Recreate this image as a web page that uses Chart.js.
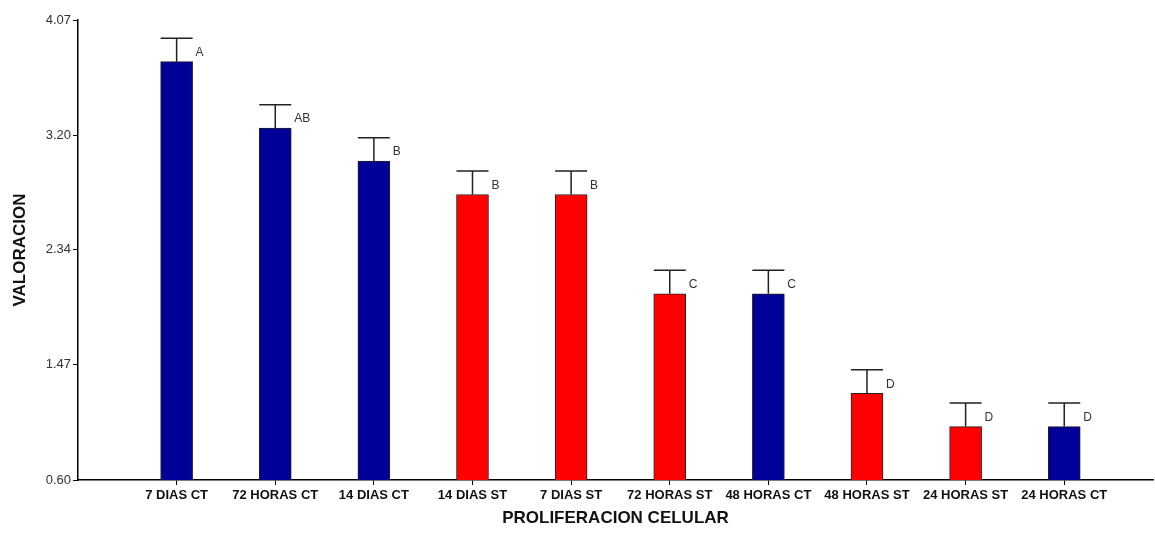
<!DOCTYPE html>
<html>
<head>
<meta charset="utf-8">
<script src="https://cdn.jsdelivr.net/npm/chart.js@4/dist/chart.umd.min.js"></script>
<style>
  html, body { margin: 0; padding: 0; background: #fff; }
  #wrap { width: 1155px; height: 540px; }
</style>
</head>
<body>
<div id="wrap"><canvas id="c" width="1155" height="540"></canvas></div>
<script>
// Mean score per treatment and its error (one bar per treatment)
const categories = ['7 DIAS CT', '72 HORAS CT', '14 DIAS CT', '14 DIAS ST', '7 DIAS ST',
                    '72 HORAS ST', '48 HORAS CT', '48 HORAS ST', '24 HORAS ST', '24 HORAS CT'];
const means      = [3.756, 3.254, 3.005, 2.754, 2.754, 2.005, 2.005, 1.254, 1.003, 1.003];
const errors     = [0.177, 0.177, 0.177, 0.177, 0.177, 0.177, 0.177, 0.177, 0.177, 0.177];
const groups     = ['CT', 'CT', 'CT', 'ST', 'ST', 'ST', 'CT', 'ST', 'ST', 'CT'];
const letters    = ['A', 'AB', 'B', 'B', 'B', 'C', 'C', 'D', 'D', 'D'];
const yTicks     = [0.60, 1.47, 2.34, 3.20, 4.07];

const groupColors = { CT: '#000099', ST: '#ff0000' };

const errorBarsPlugin = {
  id: 'errorBars',
  afterDatasetsDraw(chart) {
    const { ctx, scales: { y } } = chart;
    const meta = chart.getDatasetMeta(0);
    ctx.save();
    meta.data.forEach((bar, i) => {
      const half = bar.width / 2;
      const yMean = y.getPixelForValue(means[i]);
      const yTop = y.getPixelForValue(means[i] + errors[i]);
      ctx.strokeStyle = '#222';
      ctx.lineWidth = 1.5;
      ctx.beginPath();
      ctx.moveTo(bar.x, yMean);
      ctx.lineTo(bar.x, yTop);
      ctx.moveTo(bar.x - half, yTop);
      ctx.lineTo(bar.x + half, yTop);
      ctx.stroke();
      // significance letter beside the error bar
      ctx.fillStyle = '#333';
      ctx.font = '12px "Liberation Sans", Arial, sans-serif';
      ctx.textAlign = 'left';
      ctx.textBaseline = 'middle';
      ctx.fillText(letters[i], bar.x + half + 3, yMean - 9);
    });
    ctx.restore();
  }
};

new Chart(document.getElementById('c'), {
  type: 'bar',
  data: {
    datasets: [{
      data: categories.map((c, i) => ({ x: i + 1, y: means[i] })),
      backgroundColor: groups.map(g => groupColors[g]),
      borderColor: '#222',
      borderWidth: 1,
      borderSkipped: 'bottom',
      barThickness: 32
    }]
  },
  options: {
    responsive: false,
    animation: false,
    layout: { padding: { top: 20, right: 2, left: 0, bottom: 0 } },
    plugins: { legend: { display: false }, tooltip: { enabled: false } },
    scales: {
      x: {
        type: 'linear',
        offset: false,
        min: 0,
        max: 10.9,
        afterBuildTicks(scale) { scale.ticks = categories.map((c, i) => ({ value: i + 1 })); },
        afterFit(scale) { scale.height = 60; },
        grid: { offset: false, drawOnChartArea: false, tickLength: 5, color: '#000', lineWidth: 1 },
        border: { color: '#000', width: 1.5 },
        ticks: {
          autoSkip: false, maxRotation: 0, padding: 3,
          color: '#111',
          font: { family: '"Liberation Sans", Arial, sans-serif', size: 13, weight: 'bold' },
          callback: (v) => categories[v - 1]
        },
        title: {
          display: true, text: 'PROLIFERACION CELULAR', color: '#111',
          font: { family: '"Liberation Sans", Arial, sans-serif', size: 17, weight: 'bold' },
          padding: { top: 0, bottom: 11 }
        }
      },
      y: {
        min: 0.60,
        max: 4.07,
        afterBuildTicks(scale) { scale.ticks = yTicks.map(v => ({ value: v })); },
        afterFit(scale) { scale.width = 78; },
        grid: { drawOnChartArea: false, tickLength: 5, color: '#000', lineWidth: 1 },
        border: { color: '#000', width: 1.5 },
        ticks: {
          padding: 2, color: '#333',
          font: { family: '"Liberation Sans", Arial, sans-serif', size: 13 },
          callback: (v) => Number(v).toFixed(2)
        },
        title: {
          display: true, text: 'VALORACION', color: '#111',
          font: { family: '"Liberation Sans", Arial, sans-serif', size: 17, weight: 'bold' },
          padding: { top: 10, bottom: 0 }
        }
      }
    }
  },
  plugins: [errorBarsPlugin]
});
</script>
</body>
</html>
